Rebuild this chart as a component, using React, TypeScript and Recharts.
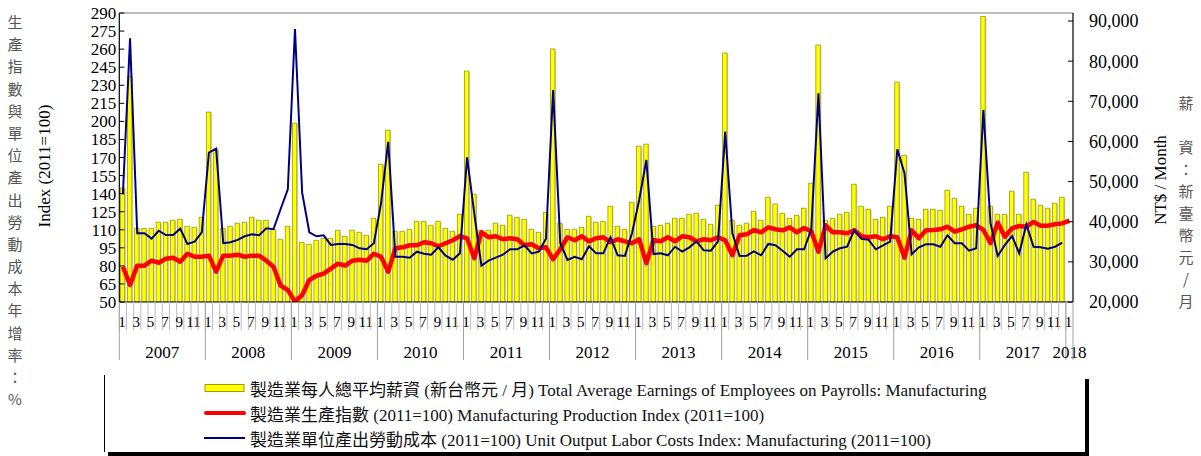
import React from 'react';
import { ComposedChart, Bar, Line, XAxis, YAxis, ReferenceLine } from 'recharts';

// 2007-01 .. 2018-01
const YEARS = [2007, 2008, 2009, 2010, 2011, 2012, 2013, 2014, 2015, 2016, 2017, 2018];
const LAST_MONTH = '2018-01';
const MONTHS: string[] = [];
YEARS.forEach((y) => {
  for (let m = 1; m <= 12; m++) {
    const key = `${y}-${String(m).padStart(2, '0')}`;
    MONTHS.push(key);
    if (key === LAST_MONTH) break;
  }
});

// 製造業每人總平均薪資 (NT$ / month)
const WAGE = [
  48360, 76190, 38380, 38300, 38380, 39880, 39880, 40380, 40630, 38880, 38630, 41120,
  67310, 58080, 38380, 38880, 39630, 39880, 41120, 40380, 40380, 38130, 35640, 38880,
  64570, 34890, 34390, 35390, 35890, 35890, 37880, 36390, 37880, 37380, 36640, 40880,
  54340, 62820, 37630, 37630, 38130, 40130, 40130, 39130, 40130, 38380, 37630, 41870,
  77540, 46860, 37880, 37880, 39630, 39130, 41620, 41120, 40630, 38130, 37380, 42370,
  83030, 39630, 38130, 38130, 38630, 41370, 39880, 40130, 43870, 38880, 38130, 44870,
  58830, 59330, 38880, 39130, 39630, 40880, 40880, 41870, 42120, 40630, 39380, 44120,
  82030, 40380, 39130, 39630, 42620, 40380, 46110, 44440, 42120, 40880, 41620, 43370,
  49600, 84020, 40380, 40880, 41870, 42370, 49350, 43870, 43120, 40630, 41120, 43870,
  74790, 56590, 40880, 40630, 43120, 43120, 42870, 47860, 45860, 43870, 41870, 43370,
  91150, 43870, 41870, 41870, 47610, 41870, 52350, 45610, 44120, 43370, 44620, 46110,
];

// 製造業生產指數 (2011=100)
const PROD = [
  79.3, 64.1, 80.2, 80.2, 84.3, 82.6, 86.0, 86.8, 83.5, 90.1, 87.6, 87.6,
  88.5, 75.2, 88.5, 88.5, 89.3, 87.6, 88.5, 88.5, 84.3, 79.3, 63.6, 60.0,
  50.3, 55.8, 68.3, 71.8, 73.5, 77.7, 81.8, 80.2, 84.3, 85.1, 84.3, 90.1,
  87.6, 75.2, 94.6, 95.4, 97.1, 97.1, 99.6, 98.8, 96.3, 98.8, 101.3, 104.6,
  102.9, 86.3, 107.9, 103.8, 104.6, 102.1, 102.9, 102.1, 97.1, 97.9, 94.6, 95.4,
  85.5, 93.8, 103.8, 101.3, 104.6, 100.4, 102.9, 103.8, 99.6, 102.1, 100.4, 98.8,
  102.1, 82.2, 101.3, 100.4, 103.8, 100.4, 104.6, 103.8, 100.4, 102.1, 101.3, 103.8,
  101.3, 88.8, 105.4, 106.2, 109.8, 107.9, 112.0, 110.4, 109.5, 112.0, 107.9, 111.4,
  108.7, 91.8, 113.7, 107.9, 107.9, 107.1, 109.5, 104.6, 103.8, 104.6, 102.1, 104.6,
  103.8, 86.8, 109.5, 102.9, 109.5, 109.8, 110.4, 112.5, 108.4, 110.4, 112.5, 113.7,
  109.8, 98.8, 115.9, 104.2, 111.2, 113.1, 112.5, 116.5, 113.4, 113.4, 114.5, 115.3,
  117.5,
];

// 製造業單位產出勞動成本 (2011=100)
const ULC = [
  139.4, 269.0, 107.1, 107.1, 102.6, 109.2, 105.6, 105.6, 110.9, 98.2, 100.1, 107.9,
  174.0, 177.3, 98.8, 99.6, 101.6, 104.6, 106.2, 105.4, 111.2, 110.4, 127.2, 143.6,
  276.7, 140.8, 107.9, 104.6, 105.4, 97.4, 98.2, 98.2, 97.4, 94.6, 93.8, 98.8,
  132.0, 183.1, 87.6, 87.6, 86.8, 91.8, 90.1, 89.3, 95.4, 88.5, 85.1, 90.4,
  170.2, 123.7, 80.2, 84.3, 86.8, 89.3, 93.8, 93.8, 97.1, 90.4, 91.8, 102.6,
  226.1, 98.8, 85.0, 87.6, 85.5, 96.3, 90.4, 90.4, 103.8, 88.8, 88.2, 107.1,
  134.7, 167.9, 89.8, 90.4, 88.8, 95.9, 91.8, 95.4, 100.4, 92.9, 92.6, 100.4,
  191.5, 107.1, 88.2, 88.5, 92.1, 88.8, 98.2, 97.1, 92.6, 87.6, 93.8, 93.8,
  110.4, 223.3, 86.3, 91.8, 94.6, 95.9, 109.8, 102.4, 101.6, 93.8, 97.1, 100.1,
  176.8, 156.9, 89.6, 95.4, 97.9, 97.9, 95.9, 105.4, 98.8, 98.8, 92.6, 94.6,
  209.5, 115.3, 88.2, 97.4, 104.8, 90.4, 114.5, 95.9, 95.4, 94.3, 95.9, 99.3,
];

const LEFT_TICKS = [50, 65, 80, 95, 110, 125, 140, 155, 170, 185, 200, 215, 230, 245, 260, 275, 290];
const RIGHT_TICKS = [20000, 30000, 40000, 50000, 60000, 70000, 80000, 90000];

const LEFT_TITLE = '生產指數與單位產出勞動成本年增率：%';
const RIGHT_TITLE = ['薪', '', '資', '：', '新', '臺', '幣', '元', '/', '月'];

const LEGEND_ITEMS = [
  { kind: 'bar', label: '製造業每人總平均薪資 (新台幣元 / 月)  Total Average Earnings of Employees on Payrolls: Manufacturing' },
  { kind: 'prod', label: '製造業生產指數 (2011=100) Manufacturing Production Index (2011=100)' },
  { kind: 'ulc', label: '製造業單位產出勞動成本 (2011=100) Unit Output Labor Costs Index: Manufacturing (2011=100)' },
];

const data = MONTHS.map((m, i) => ({
  m,
  wage: i < WAGE.length ? WAGE[i] : null,
  prod: i < PROD.length ? PROD[i] : null,
  ulc: i < ULC.length ? ULC[i] : null,
}));

// layout
const W = 1201;
const H = 456;
const M_LEFT = 60;
const LEFT_AXIS_W = 59.3;
const M_RIGHT = 60;
const RIGHT_AXIS_W = 68;
const M_TOP = 13;
const X_AXIS_H = 60;
const PLOT_BOTTOM = 302;
const PLOT_LEFT = M_LEFT + LEFT_AXIS_W;
const PLOT_RIGHT = W - M_RIGHT - RIGHT_AXIS_W;
const BAND = (PLOT_RIGHT - PLOT_LEFT) / MONTHS.length;

const SERIF = '"Liberation Serif", "Times New Roman", "Noto Sans CJK TC", serif';
const CJK = '"Noto Sans CJK TC", sans-serif';

function MonthTick(props: any) {
  const { x, payload, index } = props;
  const key: string = payload.value;
  const year = key.slice(0, 4);
  const month = Number(key.slice(5));
  const left = x - BAND / 2;
  const inYear = MONTHS.filter((k) => k.startsWith(year)).length;
  return (
    <g>
      <line x1={left} x2={left} y1={PLOT_BOTTOM} y2={PLOT_BOTTOM + 28} stroke="#bdbdbd" />
      {month % 2 === 1 && (
        <text x={x - 1} y={PLOT_BOTTOM + 25} textAnchor="middle" fontSize={15} fontFamily={SERIF} fill="#000">
          {month}
        </text>
      )}
      {month === 1 && (
        <g>
          <line x1={left} x2={left} y1={PLOT_BOTTOM} y2={PLOT_BOTTOM + 58} stroke="#a0a0a0" />
          <text
            x={left + (inYear * BAND) / 2}
            y={PLOT_BOTTOM + 56}
            textAnchor="middle"
            fontSize={17}
            fontFamily={SERIF}
            fill="#000"
          >
            {year}
          </text>
        </g>
      )}
      {index === MONTHS.length - 1 && (
        <line x1={x + BAND / 2} x2={x + BAND / 2} y1={PLOT_BOTTOM} y2={PLOT_BOTTOM + 58} stroke="#a0a0a0" />
      )}
    </g>
  );
}

function WageBar(props: any) {
  const { x, y, width, height } = props;
  if (!height || height <= 0) return null;
  return (
    <g>
      <rect x={x + 1.2} y={y + 1} width={width} height={height - 1} fill="#cfcfcf" />
      <rect x={x} y={y} width={width} height={height} fill="#ffff00" stroke="#9c9c00" strokeWidth={0.8} />
    </g>
  );
}

function LegendBox() {
  return (
    <div
      style={{
        position: 'absolute',
        left: 104,
        top: 375,
        width: 980,
        height: 77,
        borderLeft: '1px solid #000',
        boxShadow: '4px 4px 0 #000',
        background: '#fff',
      }}
    >
      {LEGEND_ITEMS.map((it, i) => (
        <div
          key={it.kind}
          style={{
            position: 'absolute',
            left: 99,
            top: 1 + i * 25,
            height: 24,
            display: 'flex',
            alignItems: 'center',
            whiteSpace: 'nowrap',
          }}
        >
          <svg width={42} height={12} style={{ marginRight: 4 }}>
            {it.kind === 'bar' && <rect x={1} y={2.5} width={39} height={7} fill="#ffff00" stroke="#9c9c00" />}
            {it.kind === 'prod' && <line x1={2} x2={40} y1={6} y2={6} stroke="#ff0000" strokeWidth={4} strokeLinecap="round" />}
            {it.kind === 'ulc' && <line x1={0} x2={41} y1={6} y2={6} stroke="#000080" strokeWidth={2} />}
          </svg>
          <span style={{ fontFamily: SERIF, fontSize: 17, color: '#111' }}>{it.label}</span>
        </div>
      ))}
    </div>
  );
}

export default function App() {
  return (
    <div style={{ position: 'absolute', left: 0, top: 0, width: W, height: H, background: '#fff', overflow: 'hidden' }}>
      <ComposedChart
        width={W}
        height={H}
        data={data}
        margin={{ top: M_TOP, right: M_RIGHT, bottom: H - PLOT_BOTTOM - X_AXIS_H, left: M_LEFT }}
      >
        <XAxis
          dataKey="m"
          interval={0}
          height={X_AXIS_H}
          tickLine={false}
          axisLine={{ stroke: '#000', strokeWidth: 1.2 }}
          tick={(p: any) => <MonthTick {...p} />}
        />
        <YAxis
          yAxisId="left"
          width={LEFT_AXIS_W}
          domain={[50, 290]}
          ticks={LEFT_TICKS}
          interval={0}
          allowDataOverflow
          tickSize={-5}
          tickMargin={8}
          axisLine={{ stroke: '#000', strokeWidth: 1.2 }}
          tickLine={{ stroke: '#000' }}
          tick={{ fontSize: 17, fontFamily: SERIF, fill: '#000' }}
        />
        <YAxis
          yAxisId="right"
          orientation="right"
          width={RIGHT_AXIS_W}
          domain={[20000, 92000]}
          ticks={RIGHT_TICKS}
          interval={0}
          allowDataOverflow
          tickSize={-5}
          tickMargin={21}
          axisLine={{ stroke: '#000', strokeWidth: 1.2 }}
          tickLine={{ stroke: '#000' }}
          tickFormatter={(v: number) => v.toLocaleString('en-US')}
          tick={{ fontSize: 18, fontFamily: SERIF, fill: '#000' }}
        />
        <ReferenceLine yAxisId="left" y={290} stroke="#a8a8a8" strokeWidth={1.5} />
        <Bar yAxisId="right" dataKey="wage" barSize={4.4} shape={(p: any) => <WageBar {...p} />} isAnimationActive={false} />
        <Line
          yAxisId="left"
          dataKey="prod"
          type="linear"
          stroke="#ff0000"
          strokeWidth={4.5}
          strokeLinejoin="round"
          dot={false}
          activeDot={false}
          isAnimationActive={false}
        />
        <Line
          yAxisId="left"
          dataKey="ulc"
          type="linear"
          stroke="#000080"
          strokeWidth={2}
          dot={false}
          activeDot={false}
          isAnimationActive={false}
        />
      </ComposedChart>

      {/* left titles */}
      <div style={{ position: 'absolute', left: 5, top: 11 }}>
        {LEFT_TITLE.split('').map((c, i) => (
          <div
            key={i}
            style={{ width: 20, height: 22.2, lineHeight: '22.2px', textAlign: 'center', fontFamily: CJK, fontSize: 15, color: '#555' }}
          >
            {c}
          </div>
        ))}
      </div>
      <div
        style={{
          position: 'absolute',
          left: 45,
          top: 166,
          transform: 'translate(-50%, -50%) rotate(-90deg)',
          whiteSpace: 'nowrap',
          fontFamily: SERIF,
          fontSize: 17,
          color: '#000',
        }}
      >
        Index (2011=100)
      </div>

      {/* right titles */}
      <div
        style={{
          position: 'absolute',
          left: 1161,
          top: 180,
          transform: 'translate(-50%, -50%) rotate(-90deg)',
          whiteSpace: 'nowrap',
          fontFamily: SERIF,
          fontSize: 17,
          color: '#000',
        }}
      >
        NT$ / Month
      </div>
      <div style={{ position: 'absolute', left: 1176, top: 92 }}>
        {RIGHT_TITLE.map((c, i) => (
          <div
            key={i}
            style={{ width: 20, height: 22, lineHeight: '22px', textAlign: 'center', fontFamily: CJK, fontSize: 15, color: '#555' }}
          >
            {c}
          </div>
        ))}
      </div>

      <LegendBox />
    </div>
  );
}
